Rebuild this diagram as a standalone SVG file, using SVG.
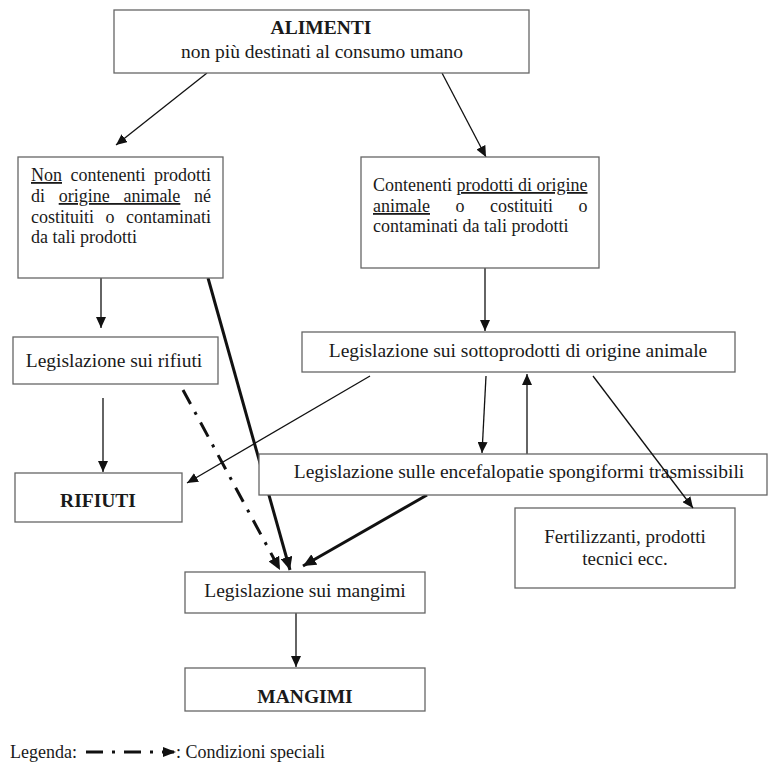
<svg xmlns="http://www.w3.org/2000/svg" width="768" height="769" viewBox="0 0 768 769">
<style>
.box{fill:#fff;stroke:#666;stroke-width:1.3}
text{font-family:"Liberation Serif","Times New Roman",serif;font-size:19.5px;fill:#1a1a1a}
.s{font-size:18px}
.b{font-weight:bold}
.c{text-anchor:middle}
.e{text-anchor:end}
.u{text-decoration:underline}
.ln{stroke:#111;stroke-width:1.3;fill:none}
.thk{stroke:#111;stroke-width:3;fill:none}
.dd{stroke:#111;stroke-width:3;fill:none;stroke-dasharray:16 9 3 9}
</style>
<defs>
<marker id="a" markerUnits="userSpaceOnUse" markerWidth="12" markerHeight="10" refX="11" refY="5" orient="auto"><path d="M0,0 L11,5 L0,10 z" fill="#111"/></marker>
<marker id="at" markerUnits="userSpaceOnUse" markerWidth="14" markerHeight="12" refX="13" refY="6" orient="auto"><path d="M0,0 L13,6 L0,12 z" fill="#111"/></marker>
</defs>
<rect width="768" height="769" fill="#fff"/>
<g id="connectors">
<line class="ln" x1="207" y1="73" x2="116" y2="145" marker-end="url(#a)"/>
<line class="ln" x1="442" y1="73" x2="486" y2="157" marker-end="url(#a)"/>
<line class="ln" x1="101" y1="278" x2="101" y2="328" marker-end="url(#a)"/>
<line class="ln" x1="485" y1="268" x2="485" y2="331" marker-end="url(#a)"/>
<line class="ln" x1="103" y1="398" x2="103" y2="472" marker-end="url(#a)"/>
<line class="thk" x1="208" y1="278" x2="290" y2="570" marker-end="url(#at)"/>
<line class="dd" x1="183" y1="390" x2="280" y2="570" marker-end="url(#at)"/>
<line class="ln" x1="370" y1="376" x2="187" y2="483" marker-end="url(#a)"/>
<line class="ln" x1="486" y1="376" x2="482" y2="453" marker-end="url(#a)"/>
<line class="ln" x1="527" y1="454" x2="527" y2="374" marker-end="url(#a)"/>
<line class="thk" x1="427" y1="495" x2="303" y2="566" marker-end="url(#at)"/>
<line class="ln" x1="296" y1="613" x2="296" y2="667" marker-end="url(#a)"/>
</g>
<g id="alimenti">
<rect class="box" x="114" y="10" width="415" height="63"/>
<text class="c b" x="321" y="34">ALIMENTI</text>
<text class="c" x="322" y="58">non più destinati al consumo umano</text>
</g>
<g id="non-animale">
<rect class="box" x="18" y="157" width="205" height="121"/>
<text class="s" x="31" y="181" word-spacing="4"><tspan class="u">Non</tspan> contenenti prodotti</text>
<text class="s" x="31" y="202" word-spacing="9.2">di <tspan class="u">origine animale</tspan> né</text>
<text class="s" x="31" y="223" word-spacing="7">costituiti o contaminati</text>
<text class="s" x="31" y="243">da tali prodotti</text>
</g>
<g id="animale">
<rect class="box" x="361" y="157" width="238" height="111"/>
<text class="s" x="373" y="191">Contenenti <tspan class="u">prodotti di origine</tspan></text>
<text class="s" x="373" y="212" word-spacing="21"><tspan class="u">animale</tspan> o costituiti o</text>
<text class="s" x="373" y="232">contaminati da tali prodotti</text>
</g>
<g id="leg-rifiuti">
<rect class="box" x="13" y="337" width="205" height="47"/>
<text class="c" x="114" y="367">Legislazione sui rifiuti</text>
</g>
<g id="leg-sottoprodotti">
<rect class="box" x="302" y="332" width="433" height="40"/>
<text class="c" x="518" y="357">Legislazione sui sottoprodotti di origine animale</text>
</g>
<g id="rifiuti">
<rect class="box" x="15" y="473" width="167" height="49"/>
<text class="c b" x="98" y="507">RIFIUTI</text>
</g>
<g id="leg-tse">
<rect class="box" x="259" y="454" width="508" height="41"/>
<text class="c" x="519" y="478">Legislazione sulle encefalopatie spongiformi trasmissibili</text>
</g>
<g id="fertilizzanti">
<rect class="box" x="515" y="508" width="220" height="80"/>
<text class="c" x="625" y="543" style="font-size:19px">Fertilizzanti, prodotti</text>
<text class="c" x="625" y="565" style="font-size:19px">tecnici ecc.</text>
</g>
<g id="connectors-top">
<line class="ln" x1="593" y1="376" x2="693" y2="508" marker-end="url(#a)"/>
</g>
<g id="leg-mangimi">
<rect class="box" x="185" y="572" width="240" height="41"/>
<text class="c" x="305" y="597">Legislazione sui mangimi</text>
</g>
<g id="mangimi">
<rect class="box" x="185" y="668" width="240" height="43"/>
<text class="c b" x="305" y="703">MANGIMI</text>
</g>
<g id="legenda">
<text class="s" x="10" y="758">Legenda:</text>
<line class="dd" x1="86" y1="752" x2="174" y2="752" style="stroke-dasharray:17 9 3 9"/>
<path d="M163,747 L176,752 L163,757 z" fill="#111"/>
<text class="s" x="176" y="758">: Condizioni speciali</text>
</g>
</svg>
